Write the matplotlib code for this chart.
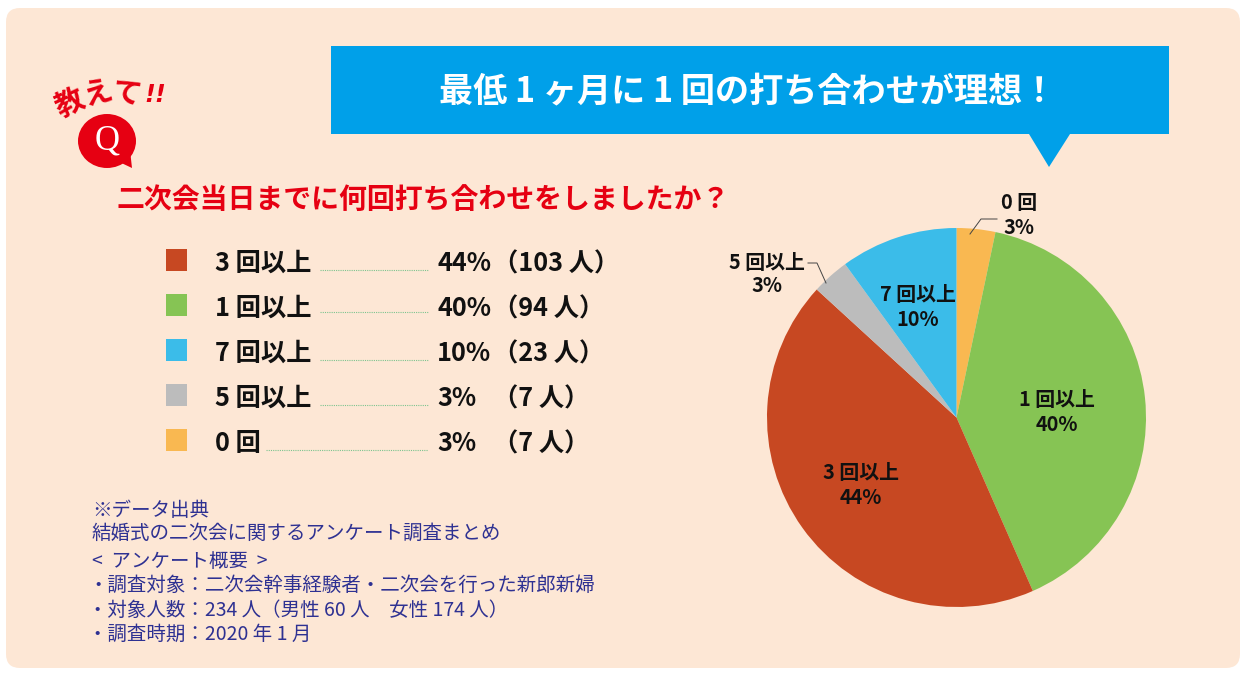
import matplotlib
matplotlib.use("Agg")
import matplotlib.pyplot as plt
from matplotlib.patches import FancyBboxPatch, Rectangle, Polygon, Ellipse

plt.rcParams['font.family'] = ['Noto Sans CJK JP', 'DejaVu Sans']

# === Data ===
legend_labels = ["3 回以上", "1 回以上", "7 回以上", "5 回以上", "0 回"]
legend_pcts = ["44%", "40%", "10%", "3%", "3%"]
legend_people = ["（103 人）", "（94 人）", "（23 人）", "（7 人）", "（7 人）"]
legend_colors = ["#c74822", "#86c454", "#3bbce9", "#bcbcbc", "#f9b851"]

# pie runs clockwise from the top, shares
pie_shares = [3.3, 40.1, 43.4, 3.2, 10.0]
pie_colors = ["#f9b851", "#86c454", "#c74822", "#bcbcbc", "#3bbce9"]

title = "最低 1 ヶ月に 1 回の打ち合わせが理想！"
question = "二次会当日までに何回打ち合わせをしましたか？"
notes = ["※データ出典",
         "結婚式の二次会に関するアンケート調査まとめ",
         "<  アンケート概要  >",
         "・調査対象：二次会幹事経験者・二次会を行った新郎新婦",
         "・対象人数：234 人（男性 60 人　女性 174 人）",
         "・調査時期：2020 年 1 月"]

RED = "#e60012"
BLUE = "#00a0e9"
NAVY = "#2e3192"

W, H = 1245, 678
fig = plt.figure(figsize=(W / 100, H / 100), dpi=100, facecolor="white")

# full figure axes in pixel coordinates, y downwards
ax = fig.add_axes([0, 0, 1, 1])
ax.set_xlim(0, W)
ax.set_ylim(H, 0)
ax.axis("off")

ax.add_patch(FancyBboxPatch((20, 22), 1206, 632, boxstyle="round,pad=14,rounding_size=14",
                            fc="#fde7d5", ec="none"))

# === Title banner ===
ax.add_patch(Rectangle((331, 46), 838, 88, fc=BLUE, ec="none"))
ax.add_patch(Polygon([(1029, 134), (1070, 134), (1049, 167)], fc=BLUE, ec="none"))
ax.text(748, 91, title, color="white", fontsize=24.6, fontweight="bold", ha="center", va="center")

# === Q badge ===
ax.add_patch(Ellipse((107, 141), 58, 54, fc=RED, ec="none"))
ax.add_patch(Polygon([(115, 160), (130, 150), (132, 168)], fc=RED, ec="none"))
ax.text(107, 141, "Q", color="white", fontsize=25, family="Liberation Serif", ha="center", va="center")
for ch, x, y, rot, fs in [("教", 70, 103, 25, 21), ("え", 97, 93, 15, 21), ("て", 127, 93, -10, 21)]:
    ax.text(x, y, ch, color=RED, fontsize=fs, fontweight="bold", rotation=rot, ha="center", va="center")
for x in [150, 160]:
    ax.text(x, 95, "!", color=RED, fontsize=17, fontweight="bold", style="italic",
            family="DejaVu Sans", ha="center", va="center")

ax.text(117, 200, question, color=RED, fontsize=20.1, fontweight="bold", ha="left", va="center")

# === Legend list ===
row_y = [260, 305, 350, 395, 440]
line_y = [270, 312, 360, 405, 450]
line_x0 = [320, 320, 320, 320, 266]
for i in range(len(legend_labels)):
    y = row_y[i]
    ax.add_patch(Rectangle((165.5, y - 11), 21.5, 21.5, fc=legend_colors[i], ec="none"))
    ax.text(215, y + 3.5, legend_labels[i], fontsize=18.2, fontweight="bold", color="#111111", va="center")
    ax.plot([line_x0[i], 428], [line_y[i], line_y[i]], color="#7cc48f", lw=0.8, ls=(0, (1, 1)))
    ax.text(437, y + 3.5, legend_pcts[i], fontsize=18.2, fontweight="bold", color="#111111", va="center")
    ax.text(493, y + 3.5, legend_people[i], fontsize=18.2, fontweight="bold", color="#111111", va="center")

# === Notes ===
note_y = [510, 533, 561, 585, 610, 634]
note_x = [92, 92, 92, 88, 88, 88]
for line, x, y in zip(notes, note_x, note_y):
    ax.text(x, y, line, color=NAVY, fontsize=14, va="center")

# === Pie ===
cx, cy, r = 956.5, 417.5, 189.5
ax_pie = fig.add_axes([(cx - r) / W, (H - cy - r) / H, 2 * r / W, 2 * r / H])
ax_pie.pie(pie_shares, colors=pie_colors, startangle=90, counterclock=False, radius=1,
           wedgeprops={"linewidth": 0})
ax_pie.set_xlim(-1, 1)
ax_pie.set_ylim(-1, 1)
ax_pie.patch.set_alpha(0)

# labels go on top of the pie, so a last transparent overlay in pixel coordinates
ax_top = fig.add_axes([0, 0, 1, 1])
ax_top.set_xlim(0, W)
ax_top.set_ylim(H, 0)
ax_top.axis("off")
pie_labels = [("0 回\n3%", 1019, 215, 1.18), ("1 回以上\n40%", 1057, 412, 1.18), ("3 回以上\n44%", 861, 485, 1.18),
              ("5 回以上\n3%", 767, 274, 1.06), ("7 回以上\n10%", 918, 307, 1.18)]
for txt, x, y, sp in pie_labels:
    ax_top.text(x, y, txt, fontsize=14.3, fontweight="bold", color="#111111", ha="center", va="center",
                linespacing=sp)
ax_top.plot([970, 981, 997], [234, 219, 219], color="#444444", lw=0.7)
ax_top.plot([808, 817, 826], [263, 263, 283], color="#444444", lw=0.7)

fig.savefig("out.png", dpi=100)
